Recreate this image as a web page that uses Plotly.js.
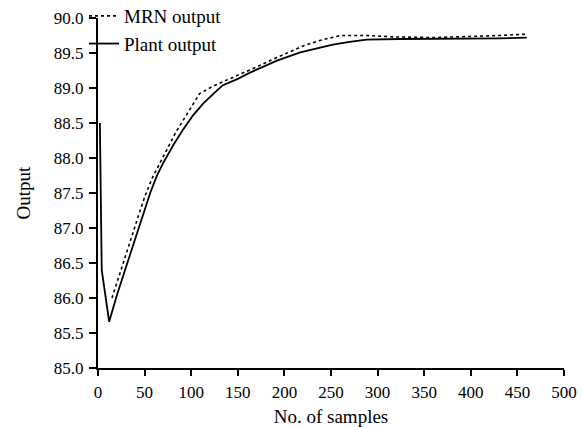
<!DOCTYPE html>
<html>
<head>
<meta charset="utf-8">
<script src="https://cdn.plot.ly/plotly-3.0.1.min.js"></script>
<style>html,body{margin:0;padding:0;background:#fff}#chart{width:582px;height:427px}</style>
</head>
<body>
<div id="chart"></div>
<script>
// Plant output (solid)
const plantSamples = [2, 4, 12, 20, 30, 40, 50, 56, 63, 70, 81, 91, 102, 113, 124, 134, 150, 163, 180, 192, 217, 235, 252, 270, 288, 324, 360, 396, 431, 460];
const plantValues  = [88.5, 86.4, 85.66, 86.03, 86.44, 86.85, 87.25, 87.5, 87.74, 87.93, 88.19, 88.4, 88.61, 88.78, 88.92, 89.04, 89.13, 89.22, 89.32, 89.39, 89.51, 89.57, 89.62, 89.66, 89.69, 89.7, 89.7, 89.7, 89.71, 89.72];
// MRN output (dotted)
const mrnSamples = [15, 22, 29, 36, 43, 50, 58, 70, 84, 97, 109, 124, 138, 152, 170, 186, 203, 220, 238, 260, 288, 317, 360, 396, 431, 460];
const mrnValues  = [86.0, 86.3, 86.57, 86.87, 87.16, 87.44, 87.71, 88.02, 88.38, 88.66, 88.92, 89.03, 89.11, 89.2, 89.3, 89.4, 89.5, 89.6, 89.68, 89.75, 89.75, 89.73, 89.72, 89.73, 89.75, 89.77];
const xTicks = [0, 50, 100, 150, 200, 250, 300, 350, 400, 450, 500];
const yTicks = [85.0, 85.5, 86.0, 86.5, 87.0, 87.5, 88.0, 88.5, 89.0, 89.5, 90.0];

const FAMILY = 'Liberation Serif, Times New Roman, serif';
const tickFont = {family: FAMILY, size: 17, color: '#000'};
const textFont = {family: FAMILY, size: 19, color: '#000'};

const traces = [
  {x: mrnSamples, y: mrnValues, mode: 'lines', name: 'MRN output',
   line: {color: '#000', width: 1.6, dash: 'dot'}},
  {x: plantSamples, y: plantValues, mode: 'lines', name: 'Plant output',
   line: {color: '#000', width: 1.8}}
];

const layout = {
  width: 582, height: 427,
  margin: {l: 98, r: 18, t: 18, b: 59, autoexpand: false},
  paper_bgcolor: '#fff', plot_bgcolor: '#fff',
  font: textFont,
  showlegend: true,
  legend: {x: -0.03, y: 1.06, xanchor: 'left', yanchor: 'top', bgcolor: 'rgba(0,0,0,0)',
           font: textFont, itemwidth: 30, tracegroupgap: 0},
  xaxis: {
    showgrid: false, zeroline: false, showline: true, linecolor: '#000', linewidth: 2,
    ticks: 'outside', ticklen: 6, tickwidth: 2, tickcolor: '#000', tickfont: tickFont,
    ticklabelstandoff: 2,
    range: [0, 500], tickvals: xTicks, ticktext: xTicks.map(String),
    title: {text: 'No. of samples', font: textFont, standoff: 10}
  },
  yaxis: {
    showgrid: false, zeroline: false, showline: true, linecolor: '#000', linewidth: 2,
    ticks: 'outside', ticklen: 7, tickwidth: 2, tickcolor: '#000', tickfont: tickFont,
    range: [85, 90], tickvals: yTicks, ticktext: yTicks.map(v => v.toFixed(1)),
    ticklabelstandoff: 2,
    title: {text: 'Output', font: textFont, standoff: 18}
  }
};

Plotly.newPlot('chart', traces, layout, {displayModeBar: false, staticPlot: true});
</script>
</body>
</html>
